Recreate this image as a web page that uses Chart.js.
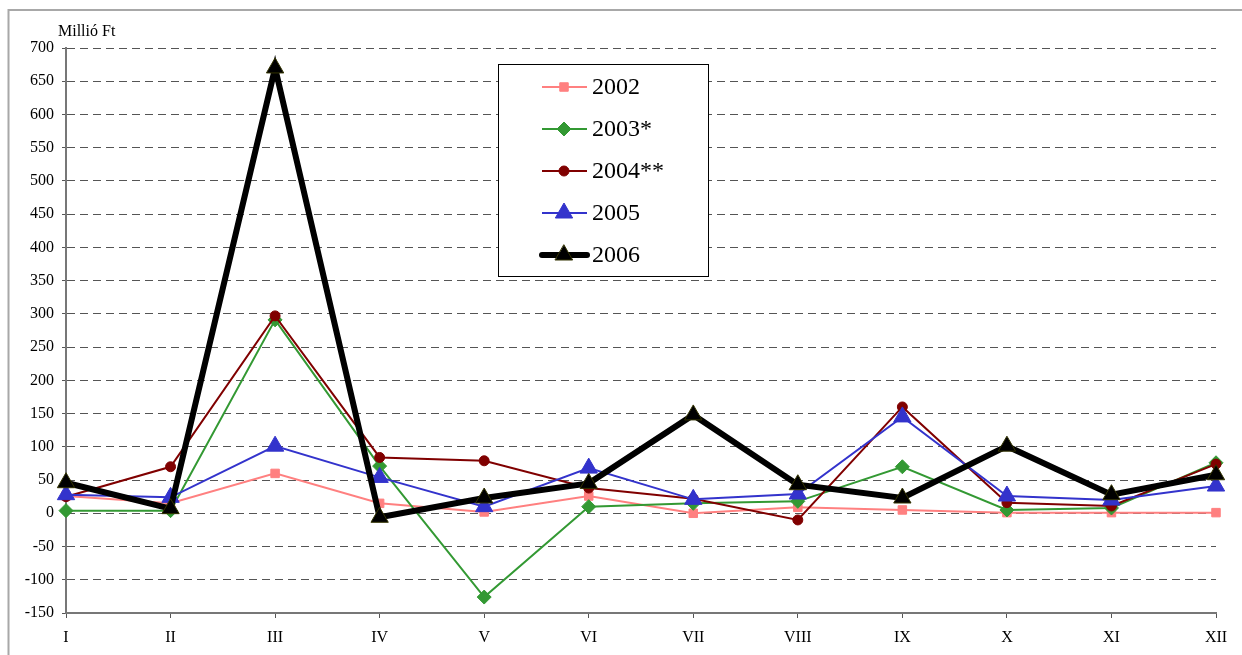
<!DOCTYPE html>
<html>
<head>
<meta charset="utf-8">
<script src="https://cdn.jsdelivr.net/npm/chart.js@4/dist/chart.umd.min.js"></script>
<style>
  html, body { margin: 0; padding: 0; background: #fff; }
  #wrap { width: 1242px; height: 655px; position: relative; }
</style>
</head>
<body>
<div id="wrap"><canvas id="chart" width="1242" height="655"></canvas></div>
<script>
// Categories (months) and series values
const months = ['I', 'II', 'III', 'IV', 'V', 'VI', 'VII', 'VIII', 'IX', 'X', 'XI', 'XII'];
const yearLabels = ['2002', '2003*', '2004**', '2005', '2006'];
const values2002 = [26, 15, 60, 15, 2, 26, 0, 9, 5, 1, 1, 1];
const values2003 = [4, 4, 291, 71, -126, 10, 15, 18, 70, 5, 8, 76];
const values2004 = [25, 70, 297, 84, 79, 38, 22, -10, 160, 16, 11, 74];
const values2005 = [28, 24, 101, 54, 10, 68, 21, 29, 145, 26, 20, 41];
const values2006 = [46, 7, 670, -6, 23, 45, 148, 43, 23, 101, 28, 58];
const yMin = -150, yMax = 700, yStep = 50;

const FONT = "'Liberation Serif', 'Times New Roman', serif";

// Legend box drawn inside the plot area, like the original
const insideLegend = {
  id: 'insideLegend',
  beforeDraw(chart) {
    const ctx = chart.ctx;
    // outer frame (only top/left edge visible in the original)
    ctx.save();
    ctx.strokeStyle = '#a8a8a8';
    ctx.lineWidth = 2;
    ctx.beginPath();
    ctx.moveTo(8.5, 660);
    ctx.lineTo(8.5, 10);
    ctx.lineTo(1250, 10);
    ctx.stroke();
    // unit label
    ctx.fillStyle = '#000';
    ctx.font = '16px ' + FONT;
    ctx.textBaseline = 'alphabetic';
    ctx.fillText('Millió Ft', 58, 36);
    ctx.restore();
  },
  afterDraw(chart) {
    const ctx = chart.ctx;
    const box = { x: 498.5, y: 64.5, w: 210, h: 212 };
    ctx.save();
    ctx.fillStyle = '#fff';
    ctx.fillRect(box.x, box.y, box.w, box.h);
    ctx.strokeStyle = '#000';
    ctx.lineWidth = 1;
    ctx.strokeRect(box.x, box.y, box.w, box.h);
    ctx.font = '24px ' + FONT;
    ctx.textBaseline = 'middle';
    chart.data.datasets.forEach((ds, i) => {
      const cy = 87 + i * 42;
      ctx.strokeStyle = ds.borderColor;
      ctx.lineWidth = ds.borderWidth;
      ctx.lineCap = ds.borderWidth > 3 ? 'round' : 'butt';
      ctx.beginPath();
      ctx.moveTo(542, cy);
      ctx.lineTo(587, cy);
      ctx.stroke();
      ctx.fillStyle = ds.pointBackgroundColor;
      ctx.strokeStyle = ds.pointBorderColor;
      ctx.lineWidth = ds.pointBorderWidth;
      Chart.helpers.drawPoint(ctx, {
        pointStyle: ds.pointStyle,
        radius: ds.pointRadius,
        rotation: 0,
        borderWidth: ds.pointBorderWidth
      }, 564, cy);
      ctx.fillStyle = '#000';
      ctx.fillText(ds.label, 592, cy + 1);
    });
    ctx.restore();
  }
};

function series(label, data, color, width, style, radius, pointBorder, order) {
  return {
    label: label,
    data: data,
    borderColor: color,
    borderWidth: width,
    pointStyle: style,
    pointRadius: radius,
    pointHoverRadius: radius,
    pointBackgroundColor: color,
    pointBorderColor: pointBorder || color,
    pointBorderWidth: 1,
    tension: 0,
    fill: false,
    order: order
  };
}

new Chart(document.getElementById('chart').getContext('2d'), {
  type: 'line',
  data: {
    labels: months,
    datasets: [
      series(yearLabels[0], values2002, '#FF8080', 2, 'rect', 6, null, 5),
      series(yearLabels[1], values2003, '#339933', 2, 'rectRot', 7, null, 4),
      series(yearLabels[2], values2004, '#800000', 2, 'circle', 5, null, 3),
      series(yearLabels[3], values2005, '#3333CC', 2, 'triangle', 10, null, 2),
      series(yearLabels[4], values2006, '#000000', 6, 'triangle', 10, '#333300', 1)
    ]
  },
  options: {
    responsive: false,
    animation: false,
    events: [],
    layout: { padding: { left: 0, right: 26, top: 48, bottom: 0 } },
    plugins: {
      legend: { display: false },
      tooltip: { enabled: false }
    },
    scales: {
      x: {
        offset: false,
        afterFit(scale) { scale.height = 42; },
        grid: {
          drawOnChartArea: false,
          drawTicks: true,
          tickLength: 5,
          tickColor: '#555'
        },
        border: { color: '#777', width: 2 },
        ticks: {
          color: '#000',
          font: { family: FONT, size: 16 },
          padding: 10,
          maxRotation: 0,
          autoSkip: false
        }
      },
      y: {
        min: yMin,
        max: yMax,
        afterFit(scale) { scale.width = 66; },
        grid: {
          color: ctx => (ctx.tick && ctx.tick.value === yMin) ? 'rgba(0,0,0,0)' : '#555',
          lineWidth: 1,
          drawTicks: true,
          tickLength: 4,
          tickColor: '#555'
        },
        border: { color: '#777', width: 2, dash: [8, 5] },
        ticks: {
          stepSize: yStep,
          color: '#000',
          font: { family: FONT, size: 16 },
          padding: 8
        }
      }
    }
  },
  plugins: [insideLegend]
});
</script>
</body>
</html>
